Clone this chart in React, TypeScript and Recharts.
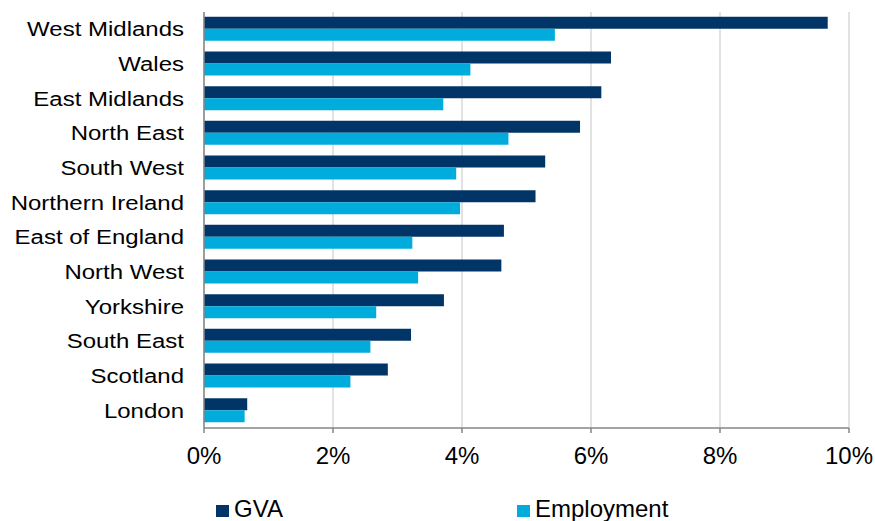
import { Bar, BarChart, CartesianGrid, Legend, XAxis, YAxis } from "recharts";

const regions = [
  "West Midlands",
  "Wales",
  "East Midlands",
  "North East",
  "South West",
  "Northern Ireland",
  "East of England",
  "North West",
  "Yorkshire",
  "South East",
  "Scotland",
  "London"
];
const gva = [9.67, 6.31, 6.16, 5.83, 5.29, 5.14, 4.65, 4.61, 3.72, 3.21, 2.85, 0.67];
const employment = [5.44, 4.13, 3.71, 4.72, 3.91, 3.97, 3.23, 3.32, 2.67, 2.58, 2.27, 0.63];
const xTicks = [0, 2, 4, 6, 8, 10];
const seriesNames = ["GVA", "Employment"];

const data = regions.map((name, i) => ({ name, gva: gva[i], employment: employment[i] }));

const font = '"Liberation Sans", Arial, sans-serif';
const legendX = [216, 517];

function RegionTick({ x, y, payload }: any) {
  return (
    <g transform={`translate(${x},${y}) scale(1,0.83)`}>
      <text x={0} y={0} dy={8.6} textAnchor="end" fontSize={24} fontFamily={font} fill="#000">
        {payload.value}
      </text>
    </g>
  );
}

function LegendBox({ payload }: any) {
  const items = [...(payload || [])].sort(
    (a: any, b: any) => seriesNames.indexOf(a.value) - seriesNames.indexOf(b.value)
  );
  return (
    <div style={{ position: "relative", height: 48, width: 875, fontFamily: font }}>
      {items.map((p: any, i: number) => (
        <div key={p.value}>
          <div
            style={{
              position: "absolute",
              left: legendX[i],
              top: 32,
              width: 13,
              height: 12,
              background: p.color
            }}
          />
          <span
            style={{
              position: "absolute",
              left: legendX[i] + 18,
              top: 24,
              fontSize: 24,
              lineHeight: "24px",
              color: "#000",
              whiteSpace: "nowrap"
            }}
          >
            {p.value}
          </span>
        </div>
      ))}
    </div>
  );
}

export default function App() {
  return (
    <div style={{ position: "absolute", left: 0, top: 0, background: "#fff" }}>
      <BarChart
        width={875}
        height={521}
        data={data}
        layout="vertical"
        margin={{ top: 12, right: 26, left: 0, bottom: 0 }}
        barCategoryGap="14%"
        barGap={0}
      >
        <CartesianGrid horizontal={false} stroke="#d9d9d9" strokeWidth={1.5} />
        <XAxis
          type="number"
          domain={[0, 10]}
          ticks={xTicks}
          tickFormatter={(v) => `${v}%`}
          height={45}
          tickSize={5}
          tickMargin={14}
          stroke="#868686"
          strokeWidth={1.5}
          tick={{ fontSize: 24, fontFamily: font, fill: "#000" }}
        />
        <YAxis
          type="category"
          dataKey="name"
          width={204}
          tickLine={false}
          tickSize={0}
          tickMargin={20}
          interval={0}
          stroke="#868686"
          strokeWidth={1.5}
          tick={<RegionTick />}
        />
        <Legend verticalAlign="bottom" wrapperStyle={{ left: 0, bottom: 0, width: 875 }} content={<LegendBox />} />
        <Bar dataKey="gva" name="GVA" fill="#023567" isAnimationActive={false} />
        <Bar dataKey="employment" name="Employment" fill="#00acdc" isAnimationActive={false} />
      </BarChart>
    </div>
  );
}
